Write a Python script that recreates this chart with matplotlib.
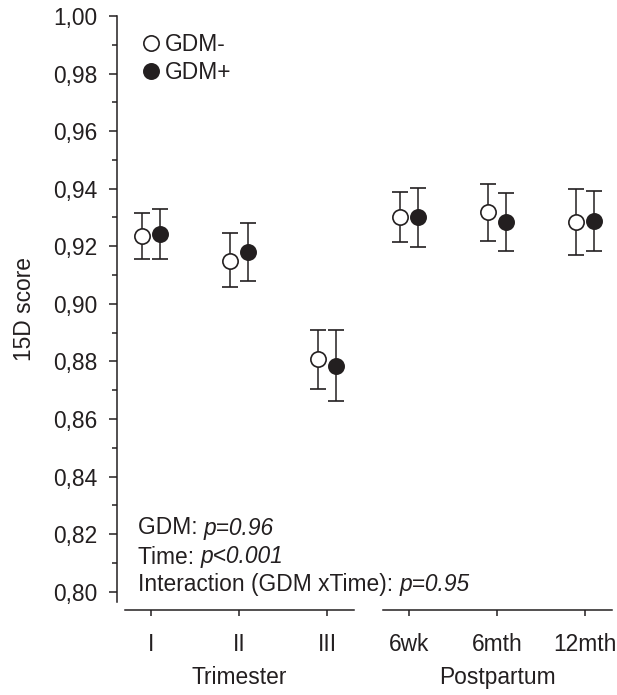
import matplotlib
matplotlib.use("Agg")
import matplotlib.pyplot as plt
from matplotlib.lines import Line2D
import numpy as np

# ---- data ----
trimester_labels = ["I", "II", "III"]
postpartum_labels = ["6wk", "6mth", "12mth"]

gdm_neg = [0.9234, 0.9150, 0.8807, 0.9300, 0.9318, 0.9286]
gdm_neg_lo = [0.9155, 0.9058, 0.8703, 0.9214, 0.9220, 0.9171]
gdm_neg_hi = [0.9317, 0.9246, 0.8909, 0.9387, 0.9416, 0.9399]

gdm_pos = [0.9242, 0.9179, 0.8785, 0.9300, 0.9285, 0.9288]
gdm_pos_lo = [0.9155, 0.9080, 0.8664, 0.9198, 0.9183, 0.9183]
gdm_pos_hi = [0.9330, 0.9280, 0.8909, 0.9403, 0.9385, 0.9391]

y_ticks = [0.80, 0.82, 0.84, 0.86, 0.88, 0.90, 0.92, 0.94, 0.96, 0.98, 1.00]

# ---- style ----
INK = "#231f20"
FONT = "Liberation Sans"
FS = 16.4
plt.rcParams["font.family"] = [FONT, "DejaVu Sans"]
plt.rcParams["text.color"] = INK

W, H = 617, 695
fig = plt.figure(figsize=(W / 100, H / 100), dpi=100)

def px_axes(x0, x1, y0, y1):
    return fig.add_axes([x0 / W, 1 - y1 / H, (x1 - x0) / W, (y1 - y0) / H])

top_px, bot_px = 16, 602
axL = px_axes(125, 354, top_px, bot_px)
axR = px_axes(383, 612, top_px, bot_px)

ylim = (0.80 - (bot_px - 591.7) / 2878.0, 1.00)
off = 0.1
lw = 1.1
ms = 11
cap = 5.8

for ax, sl, labels in ((axL, slice(0, 3), trimester_labels), (axR, slice(3, 6), postpartum_labels)):
    x = np.arange(3)
    neg = np.array(gdm_neg[sl]); neg_lo = np.array(gdm_neg_lo[sl]); neg_hi = np.array(gdm_neg_hi[sl])
    pos = np.array(gdm_pos[sl]); pos_lo = np.array(gdm_pos_lo[sl]); pos_hi = np.array(gdm_pos_hi[sl])
    ax.errorbar(x - off, neg, yerr=[neg - neg_lo, neg_hi - neg], fmt="o", ms=ms,
                mfc="white", mec=INK, mew=1.2, ecolor=INK, elinewidth=lw, capsize=cap,
                capthick=lw, zorder=3)
    ax.errorbar(x + off, pos, yerr=[pos - pos_lo, pos_hi - pos], fmt="o", ms=ms,
                mfc=INK, mec=INK, mew=1.2, ecolor=INK, elinewidth=lw, capsize=cap,
                capthick=lw, zorder=3)
    ax.set_xlim(-0.295, 2.307)
    ax.set_ylim(*ylim)
    ax.set_xticks(x)
    ax.set_xticklabels(labels)
    for s in ("top", "right"):
        ax.spines[s].set_visible(False)
    ax.spines["bottom"].set_position(("outward", 5.8))
    ax.spines["bottom"].set_linewidth(lw)
    ax.spines["bottom"].set_color(INK)
    ax.tick_params(axis="x", direction="out", length=4.5, width=lw, color=INK,
                   labelsize=FS, labelcolor=INK, pad=12)
    ax.patch.set_visible(False)

axL.spines["left"].set_position(("outward", 5.8))
axL.spines["left"].set_linewidth(lw)
axL.spines["left"].set_color(INK)
axL.set_yticks(y_ticks)
axL.set_yticklabels([f"{v:.2f}".replace(".", ",") for v in y_ticks])
axL.set_yticks(np.arange(0.81, 1.0, 0.02), minor=True)
axL.tick_params(axis="y", which="major", direction="out", length=5.8, width=lw,
                color=INK, labelsize=FS, labelcolor=INK, pad=8)
axL.tick_params(axis="y", which="minor", direction="out", length=3.6, width=lw, color=INK)
axR.spines["left"].set_visible(False)
axR.set_yticks([])

axL.set_xlabel("Trimester", fontsize=FS, color=INK, labelpad=7)
axR.set_xlabel("Postpartum", fontsize=FS, color=INK, labelpad=7)
fig.text(25 / W, 1 - 309 / H, "15D score", rotation=90, ha="center", va="center",
         fontsize=FS, color=INK)

# legend
handles = [
    Line2D([], [], ls="none", marker="o", ms=ms, mfc="white", mec=INK, mew=1.2),
    Line2D([], [], ls="none", marker="o", ms=ms, mfc=INK, mec=INK, mew=1.2),
]
leg = axL.legend(handles, ["GDM-", "GDM+"], loc="upper left",
                 bbox_to_anchor=(144 / W, 1 - 33 / H), bbox_transform=fig.transFigure,
                 frameon=False, fontsize=FS, handlelength=0.6, handletextpad=0.3,
                 labelspacing=0.22, borderpad=0, borderaxespad=0)

# annotations: normal + italic parts
fig.canvas.draw()
renderer = fig.canvas.get_renderer()
notes = [("GDM: ", "p=0.96", 528), ("Time: ", "p<0.001", 557),
         ("Interaction (GDM xTime): ", "p=0.95", 585)]
for normal, ital, ypx in notes:
    t1 = fig.text(138 / W, 1 - ypx / H, normal, ha="left", va="center",
                  fontsize=FS, color=INK)
    bb = t1.get_window_extent(renderer)
    fig.text(bb.x1 / W, 1 - ypx / H, ital, ha="left", va="center",
             fontsize=FS, color=INK, style="italic")

fig.savefig("out.png", dpi=100)
